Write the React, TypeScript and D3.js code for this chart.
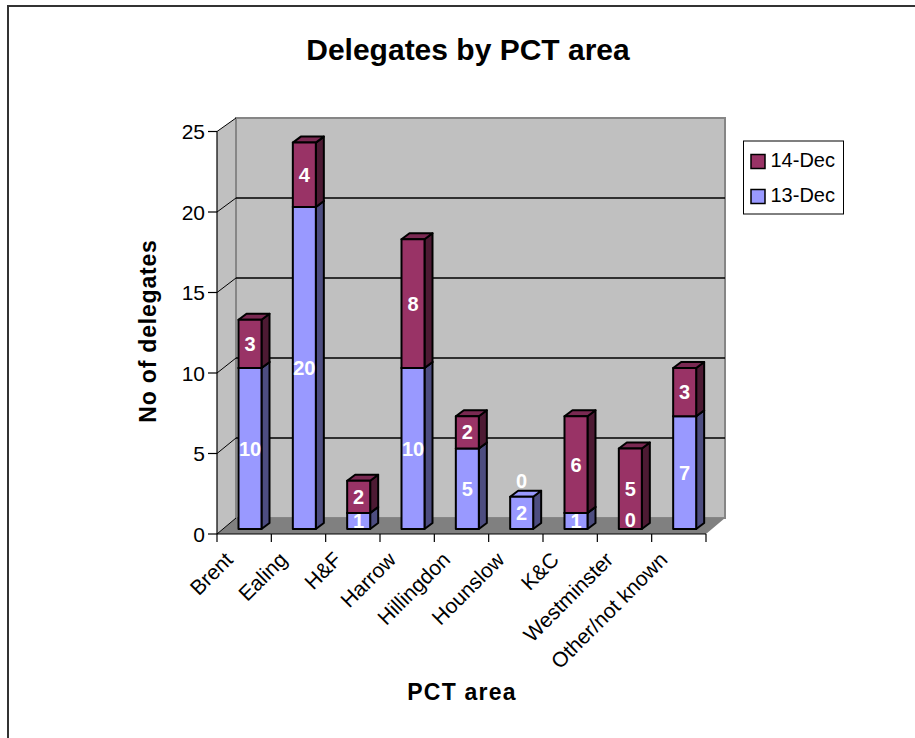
import React from 'react';
import * as d3 from 'd3';

const categories = ['Brent', 'Ealing', 'H&F', 'Harrow', 'Hillingdon', 'Hounslow', 'K&C', 'Westminster', 'Other/not known'];
const dec13 = [10, 20, 1, 10, 5, 2, 1, 0, 7];
const dec14 = [3, 4, 2, 8, 2, 0, 6, 5, 3];
const yTicks = [0, 5, 10, 15, 20, 25];
const legendItems = ['14-Dec', '13-Dec'];

const FONT = '"Liberation Sans", Arial, sans-serif';
const BLUE = '#9999ff';
const BLUE_SIDE = '#4d4d80';
const PLUM = '#993366';
const PLUM_SIDE = '#4d1a33';
const PLUM_TOP = '#7a2952';

// 3D depth of the walls and of the bars
const wallDx = 19;
const wallDy = -16;
const barDx = 8;
const barDy = -6;
const barWidth = 23;

const x = d3.scaleBand<string>().domain(categories).range([217, 706]);
const y = d3.scaleLinear().domain([0, 25]).range([534, 131.5]);
// bars stand a little behind the front edge of the floor
const barY = (v: number) => y(v) - 5;
const barX = (c: string) => (x(c) as number) + 21.5;

const pts = (p: [number, number][]) => p.map(d => d.join(',')).join(' ');

const Segment: React.FC<{ left: number; from: number; to: number; front: string; side: string; top: string }> = ({ left, from, to, front, side, top }) => {
  const y0 = barY(from);
  const y1 = barY(to);
  const r = left + barWidth;
  const common = { stroke: '#000', strokeWidth: 2, strokeLinejoin: 'round' as const };
  return (
    <g>
      <polygon points={pts([[r, y0], [r + barDx, y0 + barDy], [r + barDx, y1 + barDy], [r, y1]])} fill={side} {...common} />
      <polygon points={pts([[left, y1], [left + barDx, y1 + barDy], [r + barDx, y1 + barDy], [r, y1]])} fill={top} {...common} />
      <rect x={left} y={y1} width={barWidth} height={y0 - y1} fill={front} {...common} />
    </g>
  );
};

export default function App() {
  const wallLeft = 217 + wallDx;
  const wallRight = 706 + wallDx;
  const floorBack = y(0) + wallDy;
  const wallTop = 118;
  const wallY = d3.scaleLinear().domain([0, 25]).range([floorBack, wallTop]);

  return (
    <svg width={915} height={738} style={{ position: 'absolute', left: 0, top: 0, fontFamily: FONT }}>
      <rect width={915} height={738} fill="#fff" />
      <path d="M8,738V6H915" fill="none" stroke="#333" strokeWidth={2} />

      <text x={468} y={60} textAnchor="middle" fontSize={30} fontWeight="bold">Delegates by PCT area</text>

      {/* side wall, back wall, floor */}
      <polygon points={pts([[217, y(0)], [wallLeft, floorBack], [wallLeft, wallTop], [217, y(25)]])} fill="#c0c0c0" />
      <rect x={wallLeft} y={wallTop} width={wallRight - wallLeft} height={floorBack - wallTop} fill="#c0c0c0" stroke="#868686" strokeWidth={2} />
      <polygon points={pts([[217, y(0)], [706, y(0)], [wallRight, floorBack], [wallLeft, floorBack]])} fill="#808080" />

      {yTicks.map(t => (
        <g key={t}>
          {t > 0 && t < 25 && <line x1={wallLeft} x2={wallRight} y1={wallY(t)} y2={wallY(t)} stroke="#000" strokeWidth={1.5} />}
          <line x1={217} x2={wallLeft} y1={y(t)} y2={wallY(t)} stroke="#000" strokeWidth={1} />
          <line x1={208} x2={217} y1={y(t)} y2={y(t)} stroke="#000" strokeWidth={1.2} />
          <text x={205} y={y(t) + 7.5} textAnchor="end" fontSize={21}>{t}</text>
        </g>
      ))}

      <line x1={217} x2={217} y1={y(25)} y2={y(0)} stroke="#000" strokeWidth={1.2} />
      <line x1={217} x2={706} y1={y(0)} y2={y(0)} stroke="#000" strokeWidth={1.2} />
      {[...categories.map(c => x(c) as number), 706].map(t => (
        <line key={t} x1={t} x2={t} y1={y(0)} y2={y(0) + 8} stroke="#000" strokeWidth={1.2} />
      ))}

      {categories.map((c, i) => (
        <g key={c}>
          {dec13[i] > 0 && <Segment left={barX(c)} from={0} to={dec13[i]} front={BLUE} side={BLUE_SIDE} top={BLUE} />}
          {dec14[i] > 0 && <Segment left={barX(c)} from={dec13[i]} to={dec13[i] + dec14[i]} front={PLUM} side={PLUM_SIDE} top={PLUM_TOP} />}
        </g>
      ))}

      <g fill="#fff" fontSize={20} fontWeight="bold" textAnchor="middle">
        {categories.map((c, i) => {
          const cx = barX(c) + barWidth / 2;
          // zero labels sit clear of the neighbouring segment
          const lower = dec13[i] === 0 ? -9 : 0;
          const upper = dec14[i] === 0 ? -16 : 0;
          return (
            <g key={c}>
              <text x={cx} y={barY(dec13[i] / 2) + 7 + lower}>{dec13[i]}</text>
              <text x={cx} y={barY(dec13[i] + dec14[i] / 2) + 7 + upper}>{dec14[i]}</text>
            </g>
          );
        })}
      </g>

      {categories.map(c => {
        const tx = (x(c) as number) + x.bandwidth() / 2 - 10;
        return (
          <text key={c} transform={`translate(${tx},${y(0) + 27}) rotate(-45)`} textAnchor="end" fontSize={21}>{c}</text>
        );
      })}

      <text transform="translate(156,331) rotate(-90)" textAnchor="middle" fontSize={23} fontWeight="bold" letterSpacing={0.8}>No of delegates</text>
      <text x={462} y={700} textAnchor="middle" fontSize={23} fontWeight="bold" letterSpacing={1.2}>PCT area</text>

      <rect x={743.5} y={141} width={100} height={73} fill="#fff" stroke="#000" strokeWidth={1} />
      {legendItems.map((d, i) => (
        <g key={d}>
          <rect x={751} y={154.5 + i * 35} width={14} height={14} fill={i === 0 ? PLUM : BLUE} stroke="#000" strokeWidth={1.5} />
          <text x={770.5} y={166.5 + i * 35} fontSize={20}>{d}</text>
        </g>
      ))}
    </svg>
  );
}
